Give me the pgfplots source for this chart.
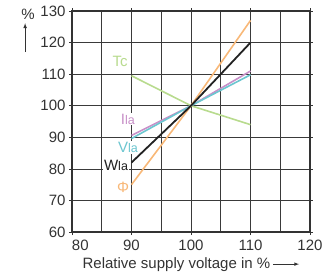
\documentclass[border=0pt]{standalone}
\usepackage{pgfplots}
\pgfplotsset{compat=1.18}
\usepackage{fontspec}
\setmainfont{Liberation Sans}
\definecolor{cTc}{HTML}{B8DB8E}
\definecolor{cPhi}{HTML}{F8B878}
\definecolor{cW}{HTML}{222222}
\definecolor{cI}{HTML}{C890C8}
\definecolor{cV}{HTML}{6CC6D0}
\definecolor{cgrid}{HTML}{3A3A3A}
\definecolor{ctxt}{HTML}{333333}
\begin{document}
\begin{tikzpicture}
\useasboundingbox (-72pt,-44pt) rectangle (251pt,232pt);
\begin{axis}[
  at={(0pt,0pt)}, anchor=south west,
  scale only axis, width=238pt, height=221pt,
  xmin=80, xmax=120, ymin=60, ymax=130,
  xtick={80,90,...,120}, ytick={60,70,...,130},
  xticklabels={\phantom{00}80,90,100,110,120},
  minor xtick={85,95,105,115},
  grid=both,
  major grid style={cgrid, line width=0.6pt},
  minor grid style={cgrid, line width=0.6pt},
  axis line style={ctxt, line width=1.1pt},
  tick style={ctxt, line width=0.6pt},
  tick align=outside, major tick length=3pt, minor tick length=0pt,
  ticklabel style={font=\fontsize{15}{17}\selectfont, text=ctxt},
  /pgf/number format/assume math mode=true,
  xticklabel style={yshift=-1pt},
  xlabel={Relative supply voltage in \%\,\tikz[baseline=-0.6ex]\draw[ctxt,line width=0.6pt,-latex](0,0)--(26pt,0);},
  xlabel style={font=\fontsize{15}{17}\selectfont, text=ctxt, yshift=-1pt},
  clip=false,
]
\addplot[cTc, line width=1.6pt] coordinates {(90,109.5) (100,100) (110,94)};
\addplot[cI, line width=1.6pt] coordinates {(90,90.6) (100,100) (110,111)};
\addplot[cV, line width=1.6pt] coordinates {(90,89.6) (100,100) (110,109.8)};
\addplot[cPhi, line width=1.6pt] coordinates {(90,75) (100,100) (110,127)};
\addplot[cW, line width=1.8pt] coordinates {(90,82) (100,100) (110,120)};
\tikzset{lab/.style={fill=white, inner sep=1pt, font=\fontsize{15}{17}\selectfont}}
\node[lab, text=cTc] at (axis cs:88.1,113.9) {Tc};
\node[lab, text=cI] at (axis cs:89.4,95.8) {I{\fontsize{12.5}{12}\selectfont la}};
\node[lab, text=cV] at (axis cs:89.4,86.7) {V{\fontsize{12.5}{12}\selectfont la}};
\node[lab, text=cW] at (axis cs:87.4,81) {W{\fontsize{12.5}{12}\selectfont la}};
\node[lab, text=cPhi] at (axis cs:88.6,74) {Φ};
\node[text=ctxt, font=\fontsize{15}{17}\selectfont] at (axis description cs:-0.185,0.986) {\%};
\draw[ctxt, line width=0.7pt, -latex] (axis description cs:-0.197,0.814) -- (axis description cs:-0.197,0.945);
\end{axis}
\end{tikzpicture}
\end{document}
